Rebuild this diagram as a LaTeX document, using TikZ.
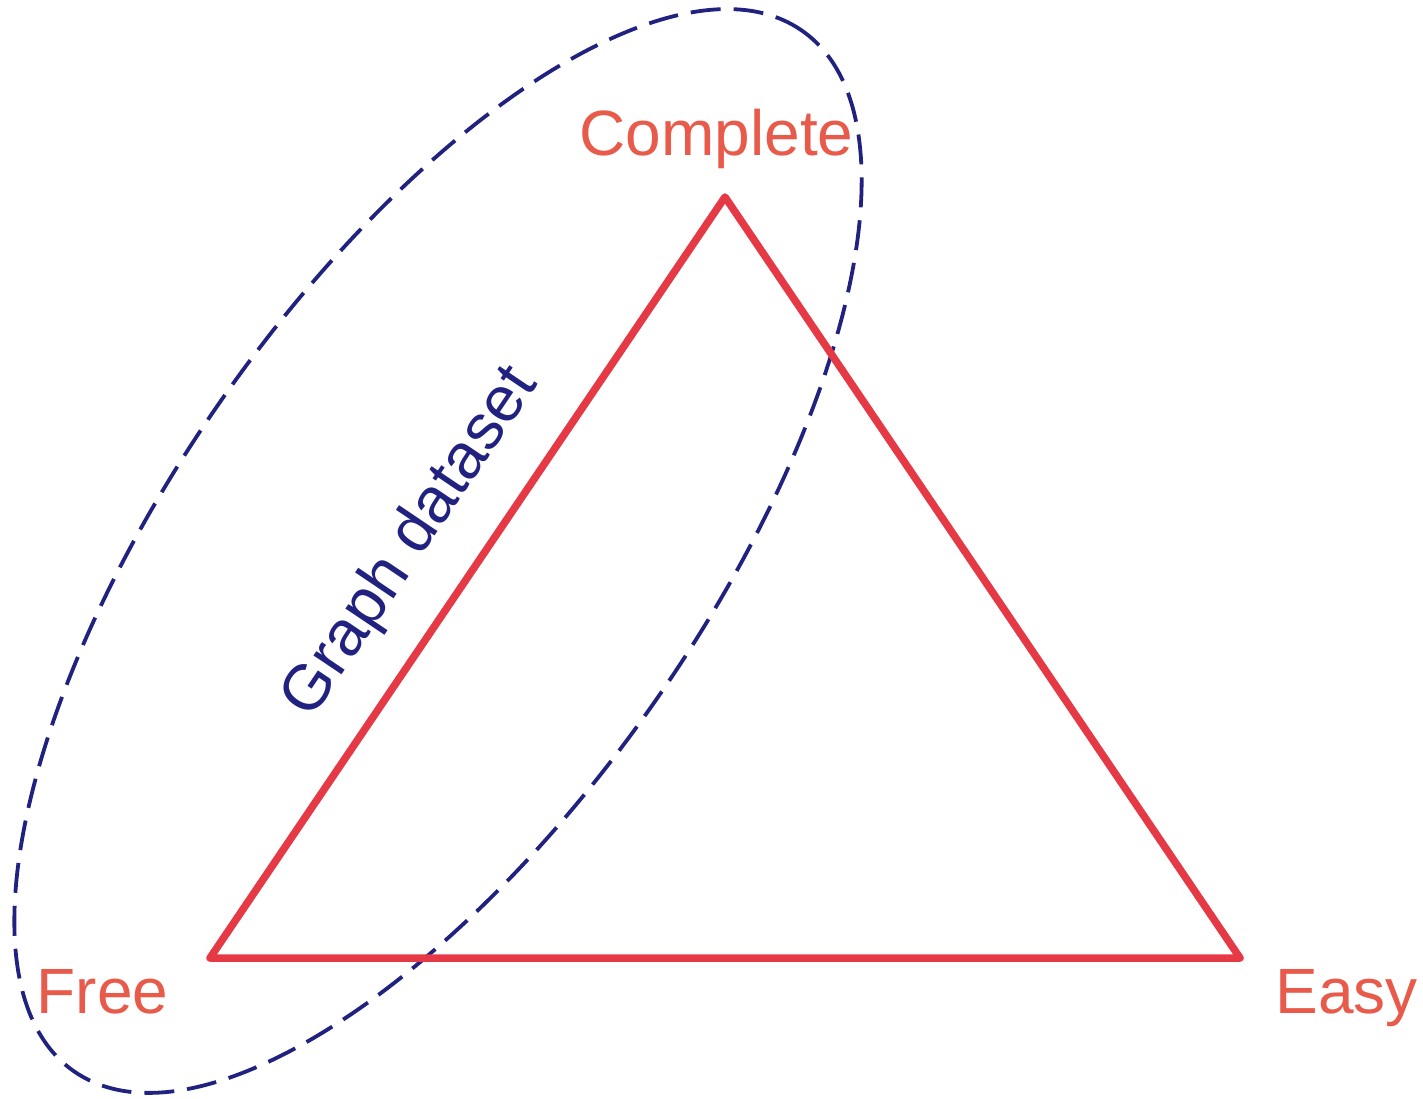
\documentclass[tikz,border=0pt]{standalone}
\usepackage{fontspec}
\setmainfont{Liberation Sans}
\definecolor{trired}{RGB}{230,57,70}
\definecolor{lblred}{RGB}{232,90,74}
\definecolor{navy}{RGB}{33,33,128}
\begin{document}
\begin{tikzpicture}[x=1pt,y=1pt,
  lbl/.style={text=lblred,font=\fontsize{64}{77}\selectfont,inner sep=0pt,anchor=base},
  tri/.style={draw=trired,line width=7.5pt,line join=round,line cap=round},
  setline/.style={draw=navy,line width=3.8pt,dash pattern=on 30pt off 13pt}]
\useasboundingbox (0,0) rectangle (1423,1098);
% ellipse
\draw[setline,rotate around={55:(438,547)}] (438,547) ellipse [x radius=635, y radius=264];
% triangle
\coordinate (top) at (725,901);
\coordinate (left) at (210,140);
\coordinate (right) at (1240,140);
\draw[tri] (top) -- (left) -- (right) -- cycle;
% labels
\node[lbl] (complete) at (716.5,942) {Complete};
\node[lbl] (free) at (102.5,85) {Free};
\node[lbl] (easy) at (1346.5,85) {Easy};
\node[lbl,text=navy,rotate=56] (graph) at (425,546) {Graph dataset};
\end{tikzpicture}
\end{document}
